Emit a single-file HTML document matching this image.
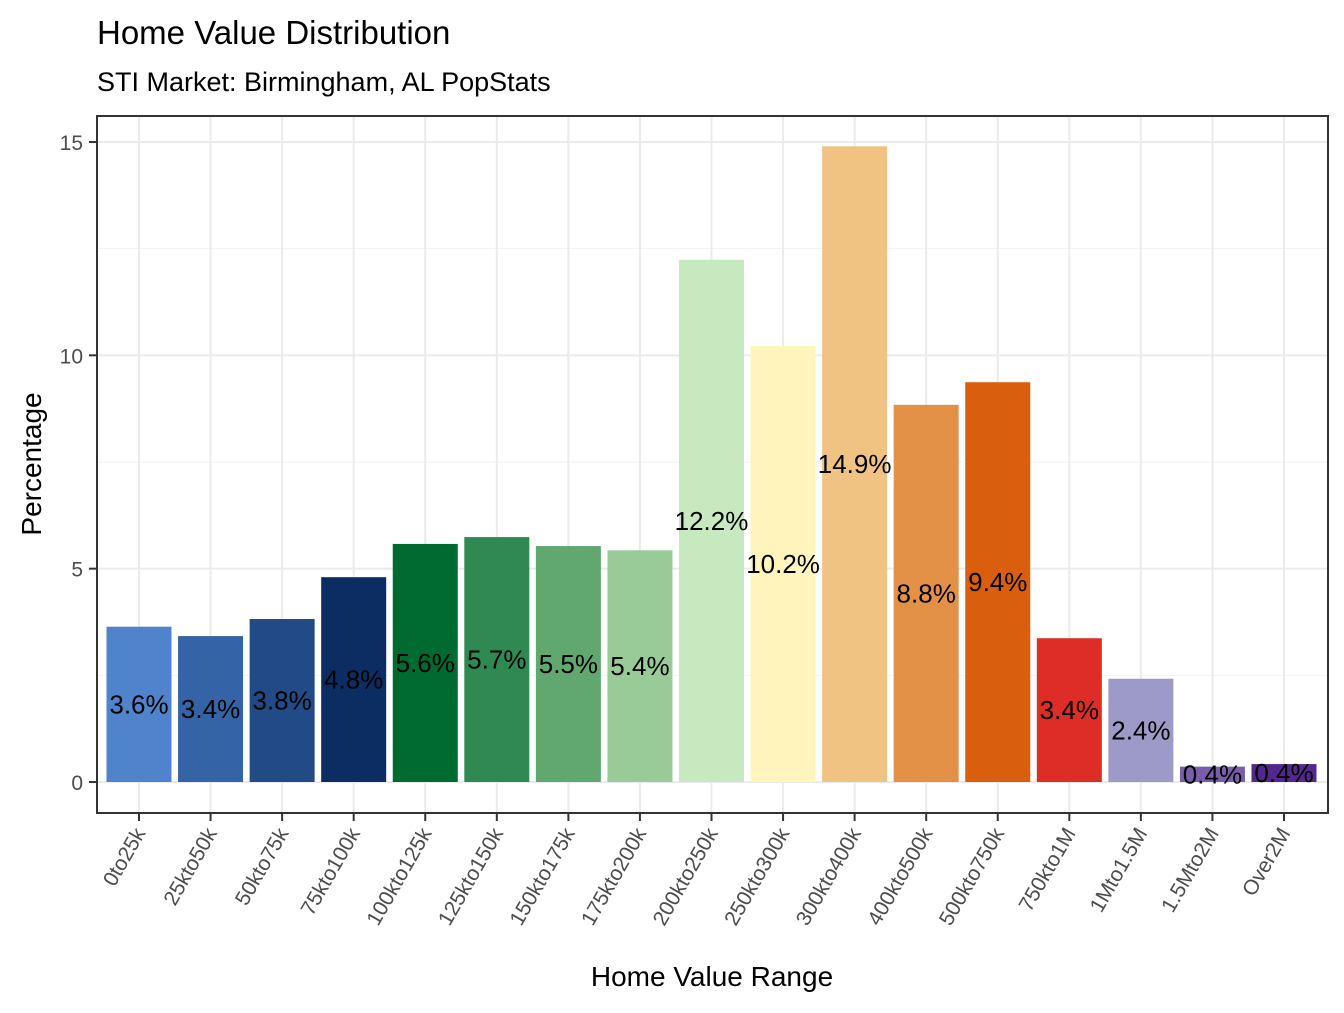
<!DOCTYPE html>
<html><head><meta charset="utf-8"><style>
html,body{margin:0;padding:0;background:#fff;}
svg text{font-family:"Liberation Sans",Arial,sans-serif;}
</style></head><body>
<svg id="chart" width="1344" height="1008" xmlns="http://www.w3.org/2000/svg">
<rect width="1344" height="1008" fill="#fff"/>
<text x="97" y="44" font-size="33" fill="#000">Home Value Distribution</text>
<text x="97" y="91" font-size="27" fill="#000">STI Market: Birmingham, AL PopStats</text>
<g id="grid"></g><g id="bars"></g><g id="labels"></g><g id="axes"></g>
<text x="712" y="986" font-size="28" text-anchor="middle" fill="#000">Home Value Range</text>
<text transform="translate(41,464) rotate(-90)" font-size="28" text-anchor="middle" fill="#000">Percentage</text>
</svg>
<script>
const categories=["0to25k","25kto50k","50kto75k","75kto100k","100kto125k","125kto150k","150kto175k","175kto200k","200kto250k","250kto300k","300kto400k","400kto500k","500kto750k","750kto1M","1Mto1.5M","1.5Mto2M","Over2M"];
const values=[3.64,3.42,3.82,4.8,5.58,5.74,5.53,5.43,12.24,10.22,14.9,8.84,9.37,3.37,2.42,0.36,0.42];
const colors=["#4f84cc","#3463a6","#214a87","#0b2d62","#006b30","#2e8a52","#60a870","#98cb98","#c7e9c0","#fff5bc","#f0c383","#e39147","#d95f0e","#de2d26","#9e9ac8","#7a5dab","#54278f"];
const yTicks=[0,5,10,15];
const yMinor=[2.5,7.5,12.5];
const NS="http://www.w3.org/2000/svg";
const L=97,R=1328,T=116,B=813;
const y0=782,pxPer=(782-142)/15;
const Y=v=>y0-v*pxPer;
const X=i=>139+i*((1284-139)/16);
const bw=65;
function mk(parent,tag,attrs,txt){const e=document.createElementNS(NS,tag);for(const k in attrs)e.setAttribute(k,attrs[k]);if(txt!==undefined)e.textContent=txt;document.getElementById(parent).appendChild(e);return e;}
yMinor.forEach(v=>{const e=mk("grid","line",{x1:L,x2:R,y1:Y(v),y2:Y(v),stroke:"#f2f2f2","stroke-width":1});

});
yTicks.forEach(v=>{const e=mk("grid","line",{x1:L,x2:R,y1:Y(v),y2:Y(v),stroke:"#ebebeb","stroke-width":2});

});
categories.forEach((c,i)=>{const e=mk("grid","line",{x1:X(i),x2:X(i),y1:T,y2:B,stroke:"#ebebeb","stroke-width":2});

});
categories.forEach((c,i)=>{
const v=values[i];
const r=mk("bars","rect",{x:X(i)-bw/2,y:Y(v),width:bw,height:Y(0)-Y(v),fill:colors[i]});


const t=mk("labels","text",{x:X(i),y:Y(v/2)+9,"font-size":26,"text-anchor":"middle",fill:"#000"},v.toFixed(1)+"%");


const tk=mk("axes","line",{x1:X(i),x2:X(i),y1:B,y2:B+8,stroke:"#333","stroke-width":2});


const tl=mk("axes","text",{transform:`translate(${X(i)+7},${B+20}) rotate(-60)`,"font-size":21,"text-anchor":"end",fill:"#4d4d4d"},c);


});
yTicks.forEach(v=>{
const tk=mk("axes","line",{x1:L-8,x2:L,y1:Y(v),y2:Y(v),stroke:"#333","stroke-width":2});


const tl=mk("axes","text",{x:L-14,y:Y(v)+8,"font-size":21,"text-anchor":"end",fill:"#4d4d4d"},String(v));


});
const fr=mk("axes","rect",{x:L,y:T,width:R-L,height:B-T,fill:"none",stroke:"#333","stroke-width":2});


</script>
</body></html>
